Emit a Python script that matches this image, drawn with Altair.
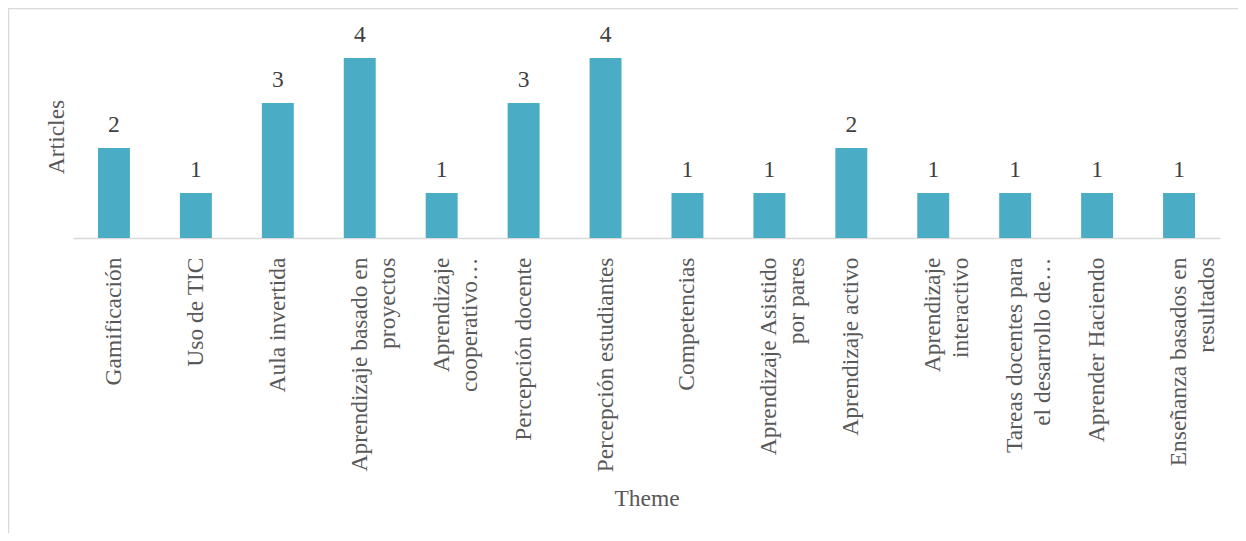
import altair as alt
import pandas as pd

themes = [
    "Gamificación", "Uso de TIC", "Aula invertida",
    "Aprendizaje basado en|proyectos", "Aprendizaje|cooperativo…",
    "Percepción docente", "Percepción estudiantes", "Competencias",
    "Aprendizaje Asistido|por pares", "Aprendizaje activo",
    "Aprendizaje|interactivo", "Tareas docentes para|el desarrollo de…",
    "Aprender Haciendo", "Enseñanza basados en|resultados",
]
articles = [2, 1, 3, 4, 1, 3, 4, 1, 1, 2, 1, 1, 1, 1]

df = pd.DataFrame({"Theme": themes, "Articles": articles})

FONT = "'Times New Roman', 'Liberation Serif', 'DejaVu Serif', serif"
FS = 23.5

x = alt.X(
    "Theme:N", sort=None,
    scale=alt.Scale(paddingInner=0.61, paddingOuter=0.305),
    axis=alt.Axis(
        title="Theme", labelAngle=-90, labelAlign="right", labelBaseline="alphabetic",
        labelOffset=7, labelPadding=19, labelLineHeight=28, labelLimit=400,
        labelOverlap=False, labelExpr="split(datum.label, '|')",
        ticks=False, domainColor="#d9d9d9", domainWidth=1.5,
        labelFont=FONT, labelFontSize=FS, labelColor="#595959",
        titleFont=FONT, titleFontSize=FS, titleColor="#595959", titleFontWeight="normal",
        titleBaseline="alphabetic", titleY=267,
    ),
)
y = alt.Y(
    "Articles:Q",
    scale=alt.Scale(domain=[0, 5], nice=False),
    axis=alt.Axis(
        title="Articles", labels=False, ticks=False, domain=False, grid=False,
        titleFont=FONT, titleFontSize=FS, titleColor="#595959", titleFontWeight="normal",
        titleAngle=270, titleAlign="center", titleBaseline="middle",
        titleX=-17, titleY=123.5,
    ),
)

base = alt.Chart(df)
bars = base.mark_bar(color="#4bacc6").encode(x=x, y=y)
labels = base.mark_text(
    font=FONT, fontSize=FS, color="#404040", baseline="alphabetic", dy=-16
).encode(x=x, y=y, text="Articles:Q")

frame = alt.Chart(alt.Data(values=[{}])).mark_rect(
    filled=False, stroke="#d9d9d9", strokeWidth=1.5
).encode(
    x=alt.value(-64.5), x2=alt.value(1400),
    y=alt.value(-4.5), y2=alt.value(800),
)

chart = alt.layer(frame, bars, labels).properties(
    width=1147, height=225,
    autosize=alt.AutoSizeParams(type="none"),
    padding={"left": 65, "top": 5, "right": 18, "bottom": 295},
).configure_view(strokeWidth=0)

chart.save("out.html", embed_options={"renderer": "svg", "actions": False})
